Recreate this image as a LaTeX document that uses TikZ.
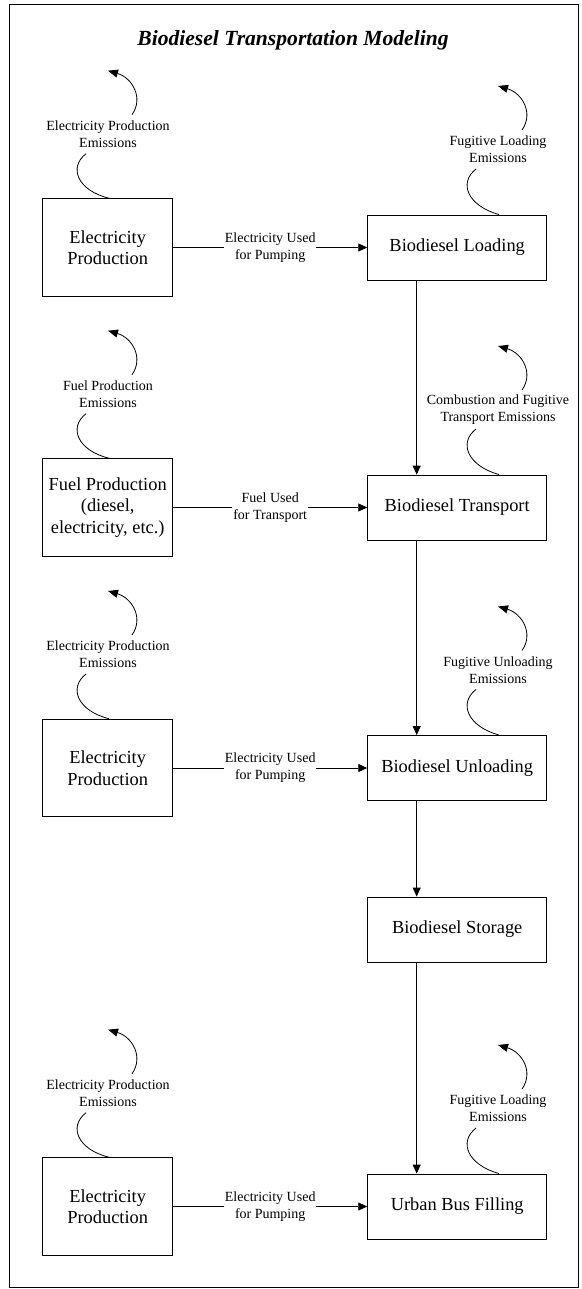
\documentclass[tikz,border=0pt]{standalone}
\usepackage{fontspec}
\setmainfont{Liberation Serif}
\usetikzlibrary{arrows.meta}
\newcommand{\emisgroup}[5]{%
  \node[lab] (#1) at (#2,#3+8.5) {#4};
  \coordinate (#1a) at (#2+24,#3-11);
  \coordinate (#1t) at (#2,#3-55);
  \coordinate (#1b) at (#2-22,#3+28);
  \coordinate (#1x) at (#2+1,#3+60);
  \draw[emarr] (#1a) .. controls (#2+36,#3-28) and (#2+24,#3-48) .. (#1t);
  \draw[emcurve] (#1b) .. controls (#2-40,#3+42) and (#2-30,#3+65) .. (#1x |- #5.north);
}
\begin{document}
\begin{tikzpicture}[x=1pt,y=-1pt,
  lbox/.style={draw, line width=0.9pt, minimum width=130pt, minimum height=97.7pt, align=center, font=\fontsize{18.4}{21.5}\selectfont, inner sep=0pt},
  rbox/.style={draw, line width=0.9pt, minimum width=179pt, minimum height=65pt, align=center, font=\fontsize{18.4}{21.5}\selectfont, inner sep=0pt},
  lab/.style={align=center, font=\fontsize{14}{17}\selectfont, inner sep=1pt},
  flowlab/.style={align=center, font=\fontsize{14}{17}\selectfont, inner sep=1pt, fill=white},
  flow/.style={line width=0.9pt, -{Triangle[length=9pt,width=8pt]}},
  emcurve/.style={line width=0.8pt},
  emarr/.style={line width=0.8pt, -{Triangle[length=10pt,width=8pt]}}]
\useasboundingbox (0,0) rectangle (581,1289);
\draw[line width=1pt] (9.5,4.5) rectangle (578.5,1287.5);
\node[font=\fontsize{21.6}{26}\bfseries\itshape] (title) at (293,40) {Biodiesel Transportation Modeling};

% right column
\node[rbox] (load) at (457.2,247.5) {Biodiesel Loading};
\node[rbox] (trans) at (457.2,507.5) {Biodiesel Transport};
\node[rbox] (unload) at (457.2,768) {Biodiesel Unloading};
\node[rbox] (store) at (457.2,929.5) {Biodiesel Storage};
\node[rbox] (bus) at (457.2,1206.5) {Urban Bus Filling};

% left column
\node[lbox] (ep1) at (107.7,247.5) {Electricity\\Production};
\node[lbox] (fuel) at (107.7,507.5) {Fuel Production\\(diesel,\\electricity, etc.)};
\node[lbox] (ep2) at (107.7,768) {Electricity\\Production};
\node[lbox] (ep3) at (107.7,1206.5) {Electricity\\Production};

% vertical flow
\coordinate (vx) at (416.7,0);
\draw[flow] (load.south -| vx) -- (trans.north -| vx);
\draw[flow] (trans.south -| vx) -- (unload.north -| vx);
\draw[flow] (unload.south -| vx) -- (store.north -| vx);
\draw[flow] (store.south -| vx) -- (bus.north -| vx);

% horizontal flows
\draw[flow] (ep1.east) -- node[flowlab] {Electricity Used\\for Pumping} (load.west);
\draw[flow] (fuel.east) -- node[flowlab] {Fuel Used\\for Transport} (trans.west);
\draw[flow] (ep2.east) -- node[flowlab] {Electricity Used\\for Pumping} (unload.west);
\draw[flow] (ep3.east) -- node[flowlab] {Electricity Used\\for Pumping} (bus.west);

% emissions
\emisgroup{e1}{108}{125.7}{Electricity Production\\Emissions}{ep1}
\emisgroup{e2}{108}{385.7}{Fuel Production\\Emissions}{fuel}
\emisgroup{e3}{108}{646}{Electricity Production\\Emissions}{ep2}
\emisgroup{e4}{108}{1084.7}{Electricity Production\\Emissions}{ep3}
\emisgroup{r1}{498}{141}{Fugitive Loading\\Emissions}{load}
\emisgroup{r2}{498}{401}{Combustion and Fugitive\\Transport Emissions}{trans}
\emisgroup{r3}{498}{661.5}{Fugitive Unloading\\Emissions}{unload}
\emisgroup{r4}{498}{1100}{Fugitive Loading\\Emissions}{bus}
\end{tikzpicture}
\end{document}
